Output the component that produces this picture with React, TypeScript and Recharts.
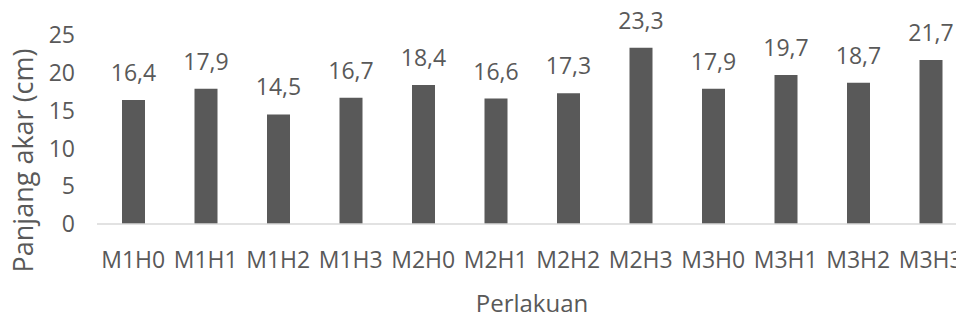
import { BarChart, Bar, XAxis, YAxis, LabelList } from "recharts";

const perlakuan = ["M1H0", "M1H1", "M1H2", "M1H3", "M2H0", "M2H1", "M2H2", "M2H3", "M3H0", "M3H1", "M3H2", "M3H3"];
const panjangAkar = [16.4, 17.9, 14.5, 16.7, 18.4, 16.6, 17.3, 23.3, 17.9, 19.7, 18.7, 21.7];
const yTicks = [0, 5, 10, 15, 20, 25];

const data = perlakuan.map((nama, i) => ({ nama, nilai: panjangAkar[i] }));

const ABU = "#595959";

export default function App() {
  return (
    <div
      style={{
        position: "fixed",
        left: 0,
        top: 0,
        width: 956,
        height: 320,
        overflow: "hidden",
        background: "#fff",
        fontFamily: "'Open Sans', sans-serif",
      }}
    >
      <BarChart
        width={980}
        height={320}
        data={data}
        margin={{ top: 35, right: 13, left: 0, bottom: 0 }}
      >
        <XAxis
          dataKey="nama"
          height={96}
          tickLine={false}
          axisLine={{ stroke: "#d9d9d9", strokeWidth: 1.5 }}
          tick={{ fill: ABU, fontSize: 23 }}
          tickMargin={22}
          interval={0}
          label={{ value: "Perlakuan", position: "insideBottom", offset: 8, fill: ABU, fontSize: 24 }}
        />
        <YAxis
          domain={[0, 25]}
          ticks={yTicks}
          width={97}
          axisLine={false}
          tickLine={false}
          tickMargin={16}
          tick={{ fill: ABU, fontSize: 23 }}
          label={{
            value: "Panjang akar (cm)",
            angle: -90,
            position: "insideLeft",
            dx: 18,
            dy: 31,
            fill: ABU,
            fontSize: 27,
            style: { textAnchor: "middle" },
          }}
        />
        <Bar dataKey="nilai" fill={ABU} barSize={23} isAnimationActive={false}>
          <LabelList
            dataKey="nilai"
            position="top"
            offset={19}
            fill={ABU}
            fontSize={23}
            formatter={(v: number) => v.toFixed(1).replace(".", ",")}
          />
        </Bar>
      </BarChart>
    </div>
  );
}
